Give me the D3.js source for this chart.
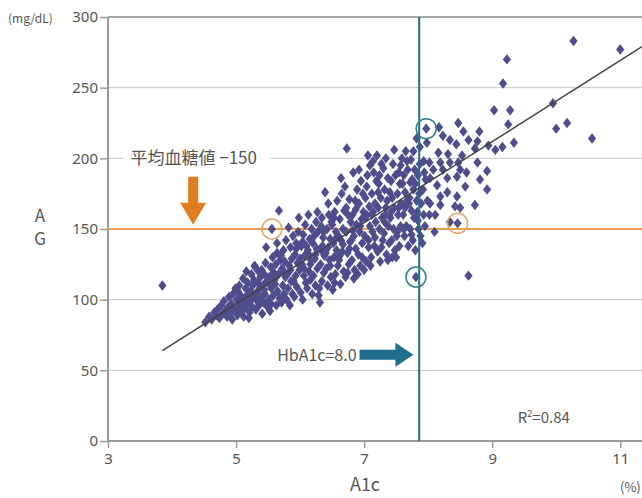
<!DOCTYPE html>
<html>
<head>
<meta charset="utf-8">
<script src="https://cdn.jsdelivr.net/npm/d3@7"></script>
<style>
  body { margin: 0; background: #fff; }
  svg text { font-family: "Noto Sans CJK JP", "Noto Sans", sans-serif; fill: #555; }
</style>
</head>
<body>
<div id="app"></div>
<script>
const MARGIN = { top: 17, right: 0, bottom: 57, left: 108 }
const OUTER = { width: 642, height: 498 }
const INNER = {
  width: OUTER.width - MARGIN.left - MARGIN.right,
  height: OUTER.height - MARGIN.top - MARGIN.bottom,
};

const xTicks = [3, 5, 7, 9, 11]
const yTicks = [0, 50, 100, 150, 200, 250, 300]

// A1c (%), AG (mg/dL)
const points = [
  [3.85,110],
  [4.52,84],[4.58,88],
  [4.62,86],[4.66,91],[4.69,89],
  [4.71,93],[4.74,87],[4.77,96],[4.79,90],
  [4.81,99],[4.83,92],[4.86,88],[4.88,95],[4.89,102],
  [4.91,90],[4.93,97],[4.95,104],[4.97,93],[4.99,108],[4.94,86],
  [5.01,100],[5.02,89],[5.04,95],[5.05,110],[5.07,103],[5.08,92],[5.09,98],[5.03,106],
  [5.11,115],[5.12,88],[5.13,101],[5.14,94],[5.15,108],[5.17,97],[5.18,112],[5.19,104],[5.16,120],
  [5.21,91],[5.22,99],[5.23,106],[5.24,118],[5.25,95],[5.26,110],[5.27,102],[5.28,114],[5.29,124],[5.2,87],
  [5.31,93],[5.32,105],[5.33,99],[5.34,112],[5.35,120],[5.36,96],[5.37,108],[5.38,116],[5.39,102],[5.3,123],
  [5.41,90],[5.42,110],[5.43,98],[5.44,118],[5.45,104],[5.46,126],[5.47,137],[5.48,113],[5.49,95],[5.4,121],[5.44,107],
  [5.51,100],[5.52,116],[5.53,92],[5.54,123],[5.55,108],[5.56,150],[5.57,130],[5.58,103],[5.59,119],[5.5,112],[5.55,97],
  [5.61,111],[5.62,125],[5.63,96],[5.64,133],[5.65,106],[5.66,118],[5.67,163],[5.68,101],[5.69,128],[5.6,114],[5.64,140],
  [5.71,98],[5.72,122],[5.73,110],[5.74,135],[5.75,104],[5.76,127],[5.77,116],[5.78,142],[5.79,100],[5.7,131],[5.74,120],
  [5.81,108],[5.82,151],[5.83,124],[5.84,96],[5.85,137],[5.86,113],[5.87,129],[5.88,104],[5.89,145],[5.8,118],[5.85,121],
  [5.91,102],[5.92,132],[5.93,117],[5.94,140],[5.95,109],[5.96,126],[5.97,148],[5.98,158],[5.99,121],[5.9,113],[5.94,136],
  [6.01,105],[6.02,138],[6.03,125],[6.04,100],[6.05,146],[6.06,117],[6.07,131],[6.08,153],[6.09,112],[6.0,129],[6.04,141],[6.06,122],
  [6.11,108],[6.12,135],[6.13,160],[6.14,120],[6.15,143],[6.16,114],[6.17,128],[6.18,150],[6.19,104],[6.1,138],[6.14,132],[6.16,125],
  [6.21,117],[6.22,145],[6.23,129],[6.24,110],[6.25,155],[6.26,136],[6.27,122],[6.28,148],[6.29,103],[6.2,140],[6.24,132],[6.27,162],
  [6.31,98],[6.32,125],[6.33,152],[6.34,113],[6.35,138],[6.36,144],[6.37,119],[6.38,131],[6.39,176],[6.3,108],[6.34,158],[6.37,148],[6.33,135],
  [6.41,122],[6.42,150],[6.43,110],[6.44,137],[6.45,160],[6.46,128],[6.47,143],[6.48,116],[6.49,155],[6.4,133],[6.44,168],[6.47,124],
  [6.51,107],[6.52,140],[6.53,130],[6.54,162],[6.55,118],[6.56,148],[6.57,135],[6.58,170],[6.59,124],[6.5,153],[6.54,112],[6.57,144],[6.53,158],
  [6.61,128],[6.62,157],[6.63,111],[6.64,142],[6.65,175],[6.66,134],[6.67,150],[6.68,120],[6.69,163],[6.6,145],[6.64,186],[6.67,139],[6.62,131],
  [6.71,116],[6.72,148],[6.73,207],[6.74,133],[6.75,160],[6.76,125],[6.77,171],[6.78,141],[6.79,155],[6.7,180],[6.74,119],[6.77,136],[6.72,165],
  [6.81,128],[6.82,160],[6.83,190],[6.84,145],[6.85,121],[6.86,170],[6.87,136],[6.88,153],[6.89,178],[6.8,142],[6.84,115],[6.87,164],[6.82,149],
  [6.91,132],[6.92,168],[6.93,148],[6.94,124],[6.95,184],[6.96,157],[6.97,140],[6.98,175],[6.99,162],[6.9,118],[6.94,152],[6.97,130],[6.92,192],
  [7.01,145],[7.02,172],[7.03,127],[7.04,160],[7.05,188],[7.06,202],[7.07,137],[7.08,166],[7.09,152],[7.0,121],[7.04,180],[7.07,142],[7.02,158],[7.09,195],
  [7.11,130],[7.12,175],[7.13,148],[7.14,162],[7.15,190],[7.16,138],[7.17,168],[7.18,155],[7.19,184],[7.1,124],[7.14,198],[7.17,144],[7.12,160],
  [7.21,134],[7.22,165],[7.23,182],[7.24,150],[7.25,127],[7.26,172],[7.27,196],[7.28,158],[7.29,142],[7.2,202],[7.24,188],[7.27,137],[7.22,176],
  [7.31,147],[7.32,178],[7.33,160],[7.34,200],[7.35,132],[7.36,170],[7.37,186],[7.38,152],[7.39,140],[7.3,193],[7.34,165],[7.37,128],[7.32,155],
  [7.41,158],[7.42,184],[7.43,142],[7.44,172],[7.45,196],[7.46,150],[7.47,165],[7.48,135],[7.49,188],[7.4,176],[7.44,130],[7.47,206],[7.42,162],
  [7.51,145],[7.52,175],[7.53,160],[7.54,190],[7.55,138],[7.56,182],[7.57,152],[7.58,168],[7.59,200],[7.5,130],[7.54,165],[7.57,195],[7.52,148],
  [7.61,160],[7.62,188],[7.63,145],[7.64,176],[7.65,205],[7.66,152],[7.67,170],[7.68,192],[7.69,138],[7.6,182],[7.64,165],[7.67,198],[7.62,150],
  [7.71,172],[7.72,150],[7.73,199],[7.74,163],[7.75,185],[7.76,142],[7.77,178],[7.78,158],[7.79,192],[7.7,168],[7.74,146],[7.77,205],[7.72,183],
  [7.81,116],[7.8,135],[7.82,214],[7.83,162],[7.84,188],[7.85,150],[7.86,175],[7.87,196],[7.88,145],[7.89,168],[7.8,182],[7.84,156],[7.87,208],[7.82,170],
  [7.91,140],[7.92,178],[7.93,160],[7.94,190],[7.95,152],[7.96,185],[7.97,221],[7.98,211],[7.99,170],[7.93,198],
  [8.17,222],[8.23,216],[8.34,213],[8.44,210],[8.55,219],[8.63,213],
  [8.8,219],[8.77,212],[8.47,225],[9.03,234],[9.28,234],[9.25,224],[9.34,211],[8.94,209],
  [9.05,206],[9.16,208],[8.73,207],[8.53,202],[8.47,197],[8.77,197],[8.92,191],[8.5,192],
  [8.81,185],[9.23,270],[9.17,253],[9.95,239],[10.0,221],[10.17,225],[10.56,214],[10.27,283],
  [11.0,277],[8.16,204],[8.31,203],[8.02,197],[8.19,197],[8.34,197],[8.08,192],[8.23,192],
  [8.92,178],[8.03,186],[8.14,181],[8.3,186],[8.45,187],[8.58,180],[8.19,173],[8.45,173],
  [8.03,168],[8.19,167],[8.42,166],[8.5,165],[8.73,167],[8.11,160],[8.34,155],[8.46,154],
  [8.63,117],[8.1,148],[8.02,160],[8.3,176],[8.6,190]
]

const fitLine = [[3.85, 64], [11.34, 279]]
const agLevel = 150
const a1cLevel = 7.86
const orangeCircles = [[5.56, 150], [8.46, 154]]
const blueCircles = [[7.97, 221], [7.81, 116]]

const xScale = d3.scaleLinear()
  .domain([3, 11.34])
  .range([0, INNER.width])

const yScale = d3.scaleLinear()
  .domain([0, 300])
  .range([INNER.height, 0])

const svg = d3.select('#app')
  .append('svg')
  .attr('width', OUTER.width)
  .attr('height', OUTER.height);

const g = svg.append('g')
  .attr('transform', `translate(${MARGIN.left}, ${MARGIN.top})`);

// grid
g.selectAll('.grid')
  .data(yTicks.slice(1, -1))
  .join('line')
  .attr('x1', 0).attr('x2', INNER.width)
  .attr('y1', d => yScale(d)).attr('y2', d => yScale(d))
  .attr('stroke', '#c8c8c8')
  .attr('stroke-width', 1);
g.append('line')
  .attr('x1', 0).attr('x2', INNER.width)
  .attr('y1', yScale(300)).attr('y2', yScale(300))
  .attr('stroke', '#a8a8a8').attr('stroke-width', 2);

// axes
const yAxis = g.append('g')
  .call(d3.axisLeft(yScale).tickValues(yTicks).tickSize(8).tickPadding(2));
const xAxis = g.append('g')
  .attr('transform', `translate(0, ${INNER.height})`)
  .call(d3.axisBottom(xScale).tickValues(xTicks).tickSize(7).tickPadding(5));
[xAxis, yAxis].forEach(a => {
  a.select('.domain').attr('stroke', '#9a9a9a').attr('stroke-width', 2);
  a.selectAll('.tick line').attr('stroke', '#9a9a9a').attr('stroke-width', 1.5);
  a.selectAll('.tick text').style('font-size', '15px').attr('fill', '#555')
    .style('font-family', '"Noto Sans", sans-serif');
});
xAxis.select('.domain').attr('d', `M0,0H${INNER.width}`);
yAxis.select('.domain').attr('d', `M0,${INNER.height}V0`);

// reference lines
g.append('line')
  .attr('x1', 0).attr('x2', INNER.width)
  .attr('y1', yScale(agLevel)).attr('y2', yScale(agLevel))
  .attr('stroke', '#eb9d4e').attr('stroke-width', 2);

// points
const diamond = { draw(ctx) { ctx.moveTo(0, -5.2); ctx.lineTo(4.1, 0); ctx.lineTo(0, 5.2); ctx.lineTo(-4.1, 0); ctx.closePath(); } };
g.selectAll('.pt')
  .data(points)
  .join('path')
  .attr('class', 'pt')
  .attr('transform', d => `translate(${xScale(d[0])}, ${yScale(d[1])})`)
  .attr('d', d3.symbol(diamond))
  .attr('fill', '#4f4d8c');

g.append('line')
  .attr('x1', xScale(a1cLevel)).attr('x2', xScale(a1cLevel))
  .attr('y1', yScale(300)).attr('y2', yScale(0))
  .attr('stroke', '#1f6f88').attr('stroke-width', 2);

// fit line
g.append('path')
  .datum(fitLine)
  .attr('d', d3.line().x(d => xScale(d[0])).y(d => yScale(d[1])))
  .attr('stroke', '#444').attr('stroke-width', 1.5).attr('fill', 'none');

// circles
g.selectAll('.oc').data(orangeCircles).join('circle')
  .attr('cx', d => xScale(d[0])).attr('cy', d => yScale(d[1])).attr('r', 10)
  .attr('fill', 'none').attr('stroke', '#e0a468').attr('stroke-width', 1.5);
g.selectAll('.bc').data(blueCircles).join('circle')
  .attr('cx', d => xScale(d[0])).attr('cy', d => yScale(d[1])).attr('r', 10)
  .attr('fill', 'none').attr('stroke', '#2f7d8e').attr('stroke-width', 1.5);

// AG label on gridline
const agLabel = g.append('g')
  .attr('transform', `translate(${xScale(3.35)}, ${yScale(200)})`);
agLabel.append('rect').attr('x', -6).attr('y', -11).attr('width', 146).attr('height', 22).attr('fill', '#fff');
agLabel.append('text').attr('x', 0).attr('y', 6)
  .style('font-size', '17px').attr('fill', '#444')
  .text('平均血糖値 −150');

// orange arrow down
const ax = xScale(4.33), aTop = yScale(187), aTip = yScale(153);
g.append('path')
  .attr('d', `M${ax - 5},${aTop} H${ax + 5} V${aTip - 22} H${ax + 13} L${ax},${aTip} L${ax - 13},${aTip - 22} H${ax - 5} Z`)
  .attr('fill', '#e07d22');

// blue arrow right
const by = yScale(61), bL = xScale(7.85) - 59, bTip = xScale(7.77);
g.append('path')
  .attr('d', `M${bL},${by - 5} H${bTip - 18} V${by - 12} L${bTip},${by} L${bTip - 18},${by + 12} V${by + 5} H${bL} Z`)
  .attr('fill', '#1f6f8c');
g.append('text')
  .attr('x', bL - 3).attr('y', by + 6).attr('text-anchor', 'end')
  .style('font-size', '16px').attr('fill', '#444')
  .text('HbA1c=8.0');

// R2
const r2 = g.append('text')
  .attr('x', xScale(9.4)).attr('y', yScale(13))
  .style('font-size', '15px').attr('fill', '#555');
r2.append('tspan').text('R');
r2.append('tspan').attr('dy', -6).style('font-size', '9px').text('2');
r2.append('tspan').attr('dy', 6).text('=0.84');

// axis titles
svg.append('text').attr('x', 8).attr('y', 23)
  .style('font-size', '12px').text('(mg/dL)');
svg.append('text').attr('x', 40).attr('y', 222).attr('text-anchor', 'middle')
  .style('font-size', '17px').text('A');
svg.append('text').attr('x', 40).attr('y', 245).attr('text-anchor', 'middle')
  .style('font-size', '17px').text('G');
svg.append('text').attr('x', 365).attr('y', 491).attr('text-anchor', 'middle')
  .style('font-size', '18px').text('A1c');
svg.append('text').attr('x', 620).attr('y', 492)
  .style('font-size', '13px').text('(%)');
</script>
</body>
</html>
